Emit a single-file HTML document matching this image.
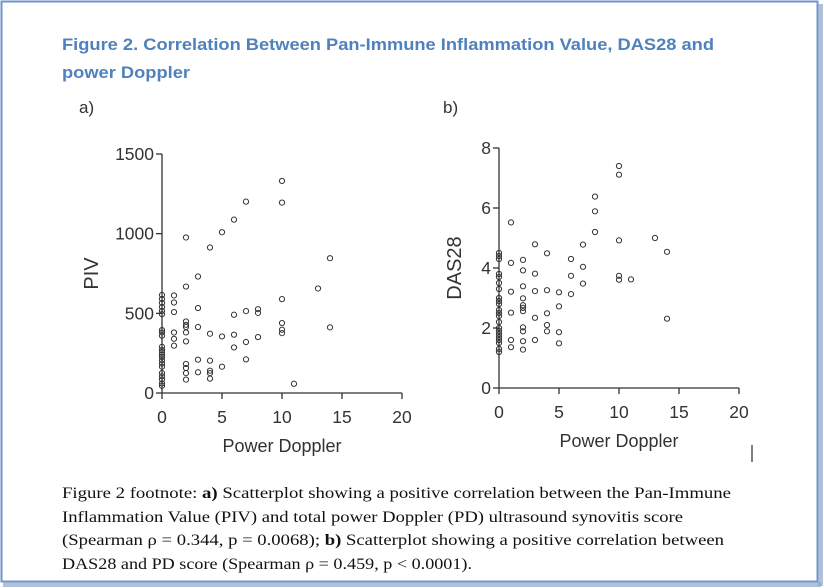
<!DOCTYPE html>
<html><head><meta charset="utf-8"><style>
html,body{margin:0;padding:0;background:#fff;}
svg{display:block;}
</style></head><body>
<svg id="fig" width="824" height="588" viewBox="0 0 824 588" xmlns="http://www.w3.org/2000/svg">
<rect x="0" y="0" width="824" height="588" fill="#fff"/>
<rect x="1.5" y="1.5" width="816" height="580" fill="none" stroke="#6d95cf" stroke-width="2"/>
<rect x="3" y="582" width="818" height="5" fill="#8aa6cc" opacity="0.7"/>
<rect x="818" y="4" width="5" height="582" fill="#8aa6cc" opacity="0.7"/>
<text x="62" y="50" font-family="'Liberation Sans',sans-serif" font-weight="bold" font-size="17" fill="#4f81bd" textLength="652" lengthAdjust="spacingAndGlyphs">Figure 2. Correlation Between Pan-Immune Inflammation Value, DAS28 and</text>
<text x="62" y="78" font-family="'Liberation Sans',sans-serif" font-weight="bold" font-size="17" fill="#4f81bd" textLength="128" lengthAdjust="spacingAndGlyphs">power Doppler</text>
<text x="79" y="113" font-family="'Liberation Sans',sans-serif" font-size="17" fill="#333">a)</text>
<text x="443" y="113" font-family="'Liberation Sans',sans-serif" font-size="17" fill="#333">b)</text>
<g id="chartA"></g>
<g id="chartB"></g>
<line x1="752" y1="445" x2="752" y2="462" stroke="#000" stroke-width="1"/>
<g font-family="'Liberation Serif',serif" font-size="16" fill="#111">
<text x="62" y="498" textLength="669" lengthAdjust="spacingAndGlyphs">Figure 2 footnote: <tspan font-weight="bold">a)</tspan> Scatterplot showing a positive correlation between the Pan-Immune</text>
<text x="62" y="522" textLength="621" lengthAdjust="spacingAndGlyphs">Inflammation Value (PIV) and total power Doppler (PD) ultrasound synovitis score</text>
<text x="62" y="545" textLength="662" lengthAdjust="spacingAndGlyphs">(Spearman ρ = 0.344, p = 0.0068); <tspan font-weight="bold">b)</tspan> Scatterplot showing a positive correlation between</text>
<text x="62" y="569" textLength="410" lengthAdjust="spacingAndGlyphs">DAS28 and PD score (Spearman ρ = 0.459, p &lt; 0.0001).</text>
</g>
</svg>
<script>
const xTicks = [0,5,10,15,20];
const pivTicks = [0,500,1000,1500];
const dasTicks = [0,2,4,6,8];
const piv_x = [0,0,0,0,0,0,0,0,0,0,0,0,0,0,0,0,0,0,0,0,0,0,
 1,1,1,1,1,1, 2,2,2,2,2,2,2,2,2,2,2, 3,3,3,3,3, 4,4,4,4,4,4, 5,5,5, 6,6,6,6, 7,7,7,7, 8,8,8, 10,10,10,10,10,10, 11, 13, 14,14];
const piv_y = [615,590,565,540,515,495,395,380,360,290,270,255,240,225,205,185,165,125,105,85,60,45,
 612,568,508,380,340,297, 976,668,449,428,414,380,324,182,157,125,84, 731,533,414,209,130, 913,372,203,140,125,90, 1009,355,165, 1088,491,366,286, 1201,514,320,211, 526,503,351, 1331,1195,589,439,397,376, 58, 656, 846,412];
const das_x = [0,0,0,0,0,0,0,0,0,0,0,0,0,0,0,0,0,0,0,0,0,0,
 1,1,1,1,1,1, 2,2,2,2,2,2,2,2,2,2,2, 3,3,3,3,3, 4,4,4,4,4, 5,5,5,5, 6,6,6, 7,7,7, 8,8,8, 10,10,10,10,10, 11, 13, 14,14];
const das_y = [4.5,4.4,4.3,3.8,3.7,3.5,3.3,3.0,2.9,2.8,2.6,2.5,2.4,2.2,2.0,1.9,1.8,1.7,1.6,1.5,1.3,1.2,
 5.52,4.17,3.21,2.51,1.6,1.36, 4.27,3.92,3.39,2.99,2.76,2.67,2.56,2.02,1.89,1.56,1.28, 4.79,3.81,3.23,2.34,1.6, 4.49,3.26,2.49,2.1,1.89, 3.19,2.72,1.86,1.49, 4.3,3.74,3.13, 4.78,4.04,3.48, 6.38,5.89,5.2, 7.4,7.11,4.92,3.74,3.61, 3.62, 5.0, 4.54,2.31];
const NS='http://www.w3.org/2000/svg';
function mk(tag, attrs, parent){const e=document.createElementNS(NS,tag);for(const k in attrs)e.setAttribute(k,attrs[k]);parent.appendChild(e);return e;}
function drawChart(g, cfg){
  const sx=v=>cfg.x0+(v-0)/20*(cfg.x1-cfg.x0);
  const sy=v=>cfg.y0-(v/cfg.ymax)*(cfg.y0-cfg.y1);
  const font="'Liberation Sans',Arial,sans-serif";
  let l=mk('line',{x1:cfg.x0,y1:cfg.y1,x2:cfg.x0,y2:cfg.y0,stroke:'#333','stroke-width':1.3},g);
  
  
  l=mk('line',{x1:cfg.x0,y1:cfg.y0,x2:cfg.x1,y2:cfg.y0,stroke:'#333','stroke-width':1.3},g);
  
  
  cfg.yt.forEach(t=>{
    const y=sy(t);
    mk('line',{x1:cfg.x0-6,y1:y,x2:cfg.x0,y2:y,stroke:'#333','stroke-width':1.3},g);
    const tx=mk('text',{x:cfg.x0-8,y:y+6,'text-anchor':'end','font-family':font,'font-size':17.5,fill:'#333'},g);
    tx.textContent=t;
    
    
  });
  xTicks.forEach(t=>{
    const x=sx(t);
    mk('line',{x1:x,y1:cfg.y0,x2:x,y2:cfg.y0+6,stroke:'#333','stroke-width':1.3},g);
    const tx=mk('text',{x:x,y:cfg.y0+30,'text-anchor':'middle','font-family':font,'font-size':17.5,fill:'#333'},g);
    tx.textContent=t;
    
    
  });
  let xt=mk('text',{x:(cfg.x0+cfg.x1)/2,y:cfg.y0+59,'text-anchor':'middle','font-family':font,'font-size':18,fill:'#333'},g);
  xt.textContent='Power Doppler';
  
  
  let yt=mk('text',{x:cfg.ytx,y:(cfg.y0+cfg.y1)/2,'text-anchor':'middle','font-family':font,'font-size':20,fill:'#333',transform:`rotate(-90 ${cfg.ytx} ${(cfg.y0+cfg.y1)/2})`},g);
  yt.textContent=cfg.ytitle;
  
  
  cfg.xs.forEach((v,i)=>{
    const c=mk('circle',{cx:sx(v),cy:sy(cfg.ys[i]),r:2.6,fill:'none',stroke:'#333','stroke-width':1},g);
    
    
  });
}
drawChart(document.getElementById('chartA'),{x0:162,x1:402,y0:393,y1:154,ymax:1500,yt:pivTicks,xs:piv_x,ys:piv_y,ytitle:'PIV',ytx:98});
drawChart(document.getElementById('chartB'),{x0:499,x1:739,y0:388,y1:148,ymax:8,yt:dasTicks,xs:das_x,ys:das_y,ytitle:'DAS28',ytx:461});
</script>
</body></html>
